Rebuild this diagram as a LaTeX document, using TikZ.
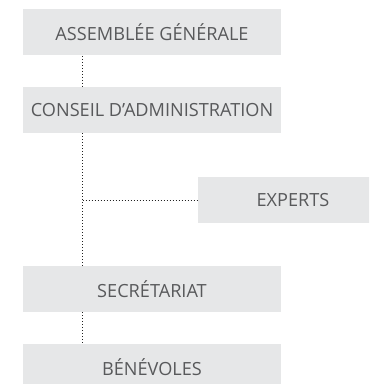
\documentclass[tikz,border=0pt]{standalone}
\usepackage{fontspec}
\setmainfont{Open Sans}
\definecolor{boxfill}{HTML}{E6E7E8}
\definecolor{boxtext}{HTML}{58595B}
\definecolor{dotline}{HTML}{222222}
\begin{document}
\begin{tikzpicture}[x=0.75pt,y=-0.75pt,
  orgbox/.style={fill=boxfill,draw=none,text=boxtext,minimum height=34.5pt,inner sep=0pt,font=\fontsize{13.6}{15}\selectfont},
  wide/.style={orgbox,minimum width=193.5pt},
  link/.style={draw=dotline,line width=0.65pt,dash pattern=on 0.6pt off 1.65pt}]
\useasboundingbox (0,0) rectangle (369,384);
\clip (0,0) rectangle (369,384);
\node[wide] (ag) at (152,32.5) {ASSEMBLÉE GÉNÉRALE};
\node[wide] (ca) at (152,110) {CONSEIL D’ADMINISTRATION};
\node[orgbox,minimum width=142.5pt] (ex) at (293,200) {EXPERTS};
\node[wide] (se) at (152,289) {SECRÉTARIAT};
\node[wide] (be) at (152,367) {BÉNÉVOLES};
\coordinate (j) at (82.5,200);
\draw[link] (ag.south -| j) -- (ca.north -| j);
\draw[link] (ca.south -| j) -- (se.north -| j);
\draw[link] (j) -- (ex.west);
\draw[link] (se.south -| j) -- (be.north -| j);
\end{tikzpicture}
\end{document}
